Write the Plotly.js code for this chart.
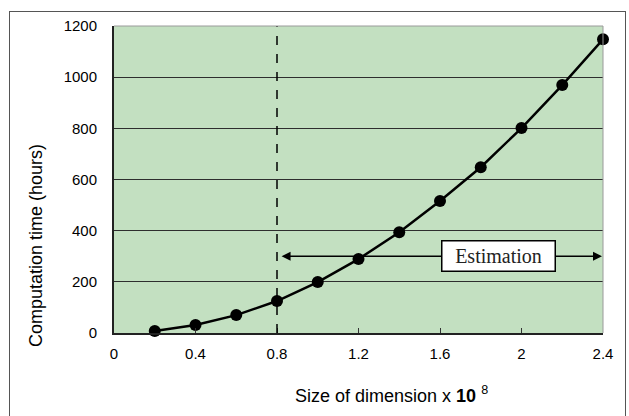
<!DOCTYPE html>
<html>
<head>
<meta charset="utf-8">
<script src="https://cdn.plot.ly/plotly-3.0.1.min.js"></script>
<style>
  html, body { margin: 0; padding: 0; background: #fff; }
  #wrap { position: relative; width: 629px; height: 416px; overflow: hidden; }
  #chart { width: 629px; height: 416px; }
  #frame { position: absolute; left: 9px; top: 11px; width: 617px; height: 420px;
           border: 1.5px solid #555; pointer-events: none; box-sizing: border-box; }
</style>
</head>
<body>
<div id="wrap">
  <div id="chart"></div>
  <div id="frame"></div>
</div>
<script>
// Data
const sizes = [0.2, 0.4, 0.6, 0.8, 1.0, 1.2, 1.4, 1.6, 1.8, 2.0, 2.2, 2.4];
const hours = [8, 31, 70, 125, 199, 289, 394, 516, 648, 801, 969, 1148];
const xTickVals = [0, 0.4, 0.8, 1.2, 1.6, 2.0, 2.4];
const xTickText = ['0', '0.4', '0.8', '1.2', '1.6', '2', '2.4'];
const yTickVals = [0, 200, 400, 600, 800, 1000, 1200];
const estimateStart = 0.8;
const estimateEnd = 2.4;
const estimateLevel = 300;
const estimateLabel = 'Estimation';
const estimateLabelX = 1.885;

const FONT = 'Liberation Sans, Arial, sans-serif';

const trace = {
  x: sizes,
  y: hours,
  type: 'scatter',
  mode: 'lines+markers',
  line: { color: '#000', width: 2.5 },
  marker: { color: '#000', size: 12 },
  cliponaxis: false,
  hoverinfo: 'skip',
  showlegend: false
};

const layout = {
  width: 629,
  height: 416,
  margin: { l: 114, r: 26, t: 26, b: 83 },
  paper_bgcolor: '#ffffff',
  plot_bgcolor: '#c3e0c1',
  font: { family: FONT, size: 15, color: '#000' },
  showlegend: false,
  xaxis: {
    range: [0, 2.4],
    tickmode: 'array',
    tickvals: xTickVals,
    ticktext: xTickText,
    ticks: 'inside',
    ticklen: 5,
    tickwidth: 1,
    tickcolor: '#333',
    ticklabelstandoff: 6,
    showline: true,
    linecolor: '#222',
    linewidth: 1.5,
    showgrid: false,
    zeroline: false,
    tickfont: { family: FONT, size: 15, color: '#000' }
  },
  yaxis: {
    range: [0, 1200],
    tickmode: 'array',
    tickvals: yTickVals,
    ticks: '',
    ticklabelstandoff: 12,
    showline: true,
    linecolor: '#222',
    linewidth: 2,
    showgrid: true,
    gridcolor: '#2e2e2e',
    gridwidth: 1,
    zeroline: false,
    tickfont: { family: FONT, size: 15, color: '#000' }
  },
  shapes: [
    // dashed boundary at start of estimation
    { type: 'line', xref: 'x', yref: 'y', x0: estimateStart, x1: estimateStart, y0: 0, y1: 1200,
      line: { color: '#000', width: 1.5, dash: 'dash' }, layer: 'above' },
    // light top & right plot edges
    { type: 'line', xref: 'paper', yref: 'paper', x0: 0, x1: 1, y0: 1, y1: 1,
      line: { color: '#9a9a9a', width: 1 }, layer: 'above' },
    { type: 'line', xref: 'paper', yref: 'paper', x0: 1, x1: 1, y0: 0, y1: 1,
      line: { color: '#9a9a9a', width: 1 }, layer: 'above' }
  ],
  annotations: [
    // double-headed estimation arrow
    { x: estimateEnd - 0.005, y: estimateLevel, xref: 'x', yref: 'y',
      ax: estimateStart + 0.015, ay: estimateLevel, axref: 'x', ayref: 'y',
      text: '', showarrow: true, arrowhead: 2, startarrowhead: 2, arrowside: 'end+start',
      arrowsize: 1.2, startarrowsize: 1.2, arrowwidth: 1.5, arrowcolor: '#000' },
    // estimation label box
    { x: estimateLabelX, y: estimateLevel, xref: 'x', yref: 'y',
      text: estimateLabel, showarrow: false,
      font: { family: 'Liberation Serif, Times New Roman, serif', size: 20, color: '#222' },
      bgcolor: '#ffffff', bordercolor: '#000', borderwidth: 1.5,
      width: 110, height: 27, borderpad: 1, xanchor: 'center', yanchor: 'middle' },
    // y title
    { x: -0.1595, y: 0.283, xref: 'paper', yref: 'paper',
      text: 'Computation time (hours)', textangle: -90, showarrow: false,
      font: { family: FONT, size: 18, color: '#000' }, xanchor: 'center', yanchor: 'middle' },
    // x title
    { x: 0.567, y: -0.2, xref: 'paper', yref: 'paper',
      text: 'Size of dimension x <b>10</b> <sup>8</sup>', showarrow: false,
      font: { family: FONT, size: 18, color: '#000' }, xanchor: 'center', yanchor: 'middle' }
  ]
};

Plotly.newPlot('chart', [trace], layout, { displayModeBar: false, staticPlot: true });
</script>
</body>
</html>
